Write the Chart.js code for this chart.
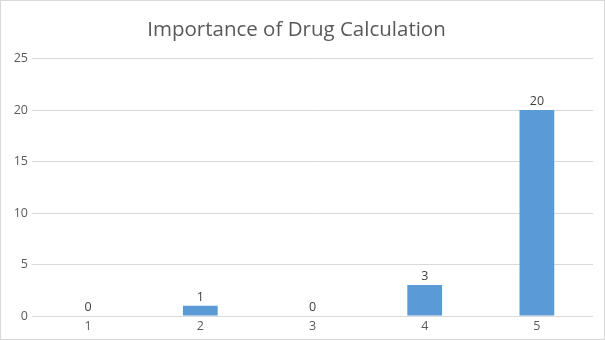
<!DOCTYPE html>
<html>
<head>
<meta charset="utf-8">
<script src="https://cdn.jsdelivr.net/npm/chart.js@4/dist/chart.umd.min.js"></script>
<style>
  html, body { margin: 0; padding: 0; background: #fff; }
  #wrap { width: 605px; height: 340px; position: relative; }
</style>
</head>
<body>
<div id="wrap"><canvas id="c" width="605" height="340"></canvas></div>
<script>
const categories = ['1', '2', '3', '4', '5'];
const responses = [0, 1, 0, 3, 20];
const yTicks = [0, 5, 10, 15, 20, 25];

const FONT = '"Open Sans", "Noto Sans", sans-serif';

// Value labels above each bar
const valueLabels = {
  id: 'valueLabels',
  afterDatasetsDraw(chart) {
    const ctx = chart.ctx;
    const meta = chart.getDatasetMeta(0);
    ctx.save();
    ctx.fillStyle = '#404040';
    ctx.font = '12.5px ' + FONT;
    ctx.textAlign = 'center';
    ctx.textBaseline = 'bottom';
    meta.data.forEach((bar, i) => {
      ctx.fillText(String(responses[i]), bar.x, bar.y - 2);
    });
    ctx.restore();
  }
};

// Thin frame around the whole chart
const frame = {
  id: 'frame',
  afterDraw(chart) {
    const ctx = chart.ctx;
    ctx.save();
    ctx.strokeStyle = '#d9d9d9';
    ctx.lineWidth = 1;
    ctx.strokeRect(0.5, 0.5, chart.width - 1, chart.height - 1);
    ctx.restore();
  }
};

new Chart(document.getElementById('c'), {
  type: 'bar',
  data: {
    labels: categories,
    datasets: [{
      data: responses,
      backgroundColor: '#5b9bd5',
      borderWidth: 0,
      barPercentage: 0.31,
      categoryPercentage: 1.0
    }]
  },
  options: {
    responsive: false,
    animation: false,
    layout: { padding: { left: 0, right: 12, top: 0, bottom: 0 } },
    plugins: {
      legend: { display: false },
      tooltip: { enabled: false },
      title: {
        display: true,
        text: 'Importance of Drug Calculation',
        color: '#595959',
        font: { family: FONT, size: 20.5, weight: 'normal' },
        padding: { top: 18, bottom: 16 }
      }
    },
    scales: {
      x: {
        grid: { display: false, drawTicks: false },
        border: { display: false },
        ticks: { color: '#595959', font: { family: FONT, size: 12.5 }, padding: 3 },
        afterFit(scale) { scale.height = 24; }
      },
      y: {
        min: 0,
        max: 25,
        afterBuildTicks(scale) { scale.ticks = yTicks.map(v => ({ value: v })); },
        grid: { color: '#d9d9d9', drawTicks: false },
        border: { display: false },
        ticks: { color: '#595959', font: { family: FONT, size: 12.5 }, padding: 4 },
        afterFit(scale) { scale.width = 32; }
      }
    }
  },
  plugins: [valueLabels, frame]
});
</script>
</body>
</html>
